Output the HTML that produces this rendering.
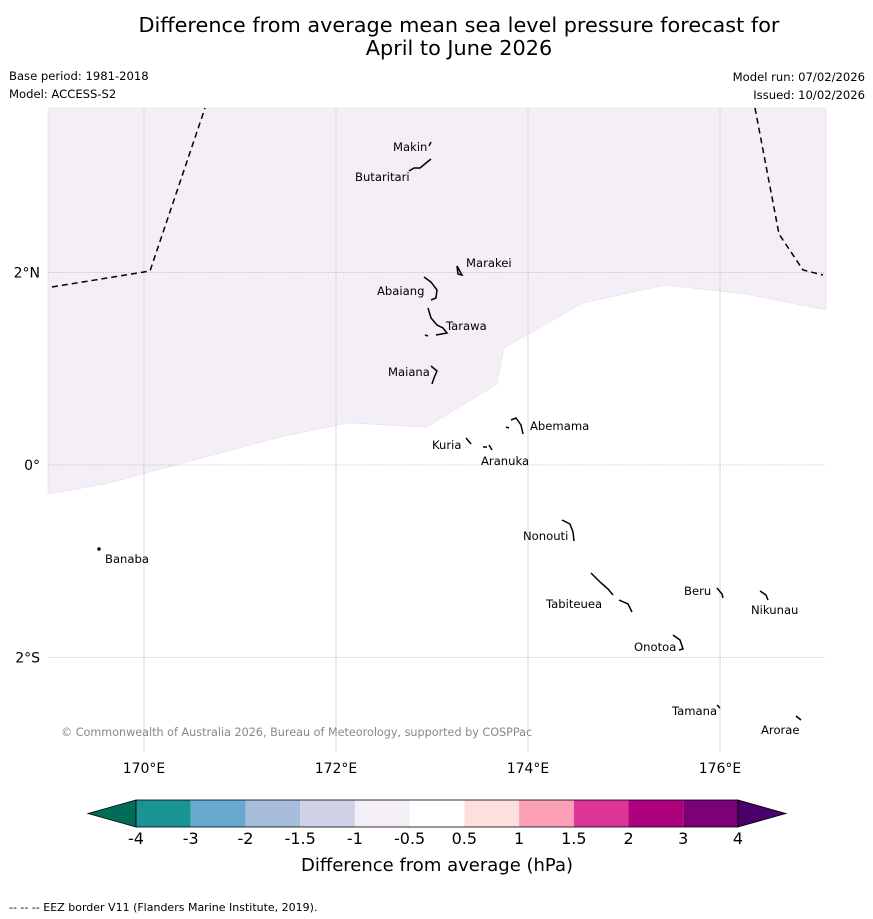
<!DOCTYPE html>
<html><head><meta charset="utf-8"><style>
body{margin:0;background:#fff;font-family:"Liberation Sans","DejaVu Sans",sans-serif;}
svg{display:block}
</style></head><body>
<svg id="chart" width="873" height="919" viewBox="0 0 873 919" font-family="DejaVu Sans, Liberation Sans, sans-serif">
<text x="459" y="32" font-size="20.8" text-anchor="middle">Difference from average mean sea level pressure forecast for</text>
<text x="459" y="55" font-size="20.8" text-anchor="middle">April to June 2026</text>
<text x="9" y="80" font-size="11.6">Base period: 1981-2018</text>
<text x="9" y="98" font-size="11.6">Model: ACCESS-S2</text>
<text x="865" y="81" font-size="11.6" text-anchor="end">Model run: 07/02/2026</text>
<text x="865" y="99" font-size="11.6" text-anchor="end">Issued: 10/02/2026</text>
<g id="map">
<rect x="48" y="108" width="778" height="644" fill="#fff"/>
<polygon fill="#f4eef6" stroke="#e6d8ea" stroke-width="0.5" points="48,494 105,484 150,472 280,437 348,423 427,427 497,384 504,348 583,303 665,285 745,294 826,310 826,108 48,108"/>
<g id="grid"></g>
<polyline fill="none" stroke="#000" stroke-width="1.5" stroke-dasharray="6,4" points="52,287 150,271 205,108"/>
<polyline fill="none" stroke="#000" stroke-width="1.5" stroke-dasharray="6,4" points="755,108 779,234 803,270 823,275"/>
<g fill="none" stroke="#000" stroke-width="1.5">
<polyline points="429,146 431,142"/>
<polyline points="409,171 414,168 420,168 426,163 431,159"/>
<polygon points="457,266 462,275 458,274"/>
<polyline points="424,277 431,282 437,290 436,298 431,300"/>
<polyline points="428,308 431,318 437,325 443,328 447,333 436,335"/>
<polyline points="425,335 428,336"/>
<polyline points="431,366 437,371 434,378 432,384"/>
<polyline points="511,420 516,418 521,425 523,434"/>
<polyline points="506,427 509,428"/>
<polyline points="466,438 471,444"/>
<polyline points="483,447 487,447"/>
<polyline points="489,445 492,450"/>
<polyline points="562,520 570,524 573,532 574,541"/>
<polyline points="591,573 600,582 608,589 613,595"/>
<polyline points="619,600 628,604 632,612"/>
<polyline points="717,588 722,594 723,598"/>
<polyline points="760,591 766,595 768,600"/>
<polyline points="673,635 680,640 683,649 679,650"/>
<polyline points="717,705 720,708"/>
<polyline points="796,716 801,720"/>
<circle cx="99" cy="549" r="1" fill="#000"/>
</g>
<g font-size="11.6" fill="#000">
<text x="393" y="151">Makin</text><text x="355" y="181">Butaritari</text>
<text x="466" y="267">Marakei</text><text x="377" y="295">Abaiang</text>
<text x="446" y="330">Tarawa</text><text x="388" y="376">Maiana</text>
<text x="530" y="430">Abemama</text><text x="432" y="449">Kuria</text>
<text x="481" y="465">Aranuka</text><text x="523" y="540">Nonouti</text>
<text x="546" y="608">Tabiteuea</text><text x="684" y="595">Beru</text>
<text x="751" y="614">Nikunau</text><text x="634" y="651">Onotoa</text>
<text x="672" y="715">Tamana</text><text x="761" y="734">Arorae</text>
<text x="105" y="563">Banaba</text>
</g>
<text x="61" y="736" font-size="11.2" fill="#888">© Commonwealth of Australia 2026, Bureau of Meteorology, supported by COSPPac</text>
</g>
<g id="axes"></g>
<g id="colorbar"></g>
<text x="437" y="871" font-size="18" text-anchor="middle">Difference from average (hPa)</text>
<text x="9" y="911" font-size="11">--  --  -- EEZ border V11 (Flanders Marine Institute, 2019).</text>
</svg>
<script>
const lonTicks=[170,172,174,176];
const latTicks=[2,0,-2];
const latLabels=["2°N","0°","2°S"];
const cbLevels=["-4","-3","-2","-1.5","-1","-0.5","0.5","1","1.5","2","3","4"];
const cbColors=["#1a9395","#67a9cf","#a6bddb","#d0d1e6","#f4eef6","#ffffff","#fde0dd","#fa9fb5","#dd3497","#ae017e","#7a0177"];
const NS="http://www.w3.org/2000/svg";
const xLon=l=>144+(l-170)*96;
const yLat=l=>465-l*96.25;
function mk(t,a,p){const e=document.createElementNS(NS,t);for(const k in a)e.setAttribute(k,a[k]);p.appendChild(e);return e;}
const grid=document.getElementById('grid'),axes=document.getElementById('axes');
lonTicks.forEach(l=>{
 const g=mk('line',{x1:xLon(l),x2:xLon(l),y1:108,y2:752,stroke:'#d0d0d0','stroke-width':0.8},grid);
 
 
 const t=mk('text',{x:xLon(l),y:773,'font-size':14,'text-anchor':'middle'},axes);t.textContent=l+'°E';
 
 
});
latTicks.forEach((l,i)=>{
 const g=mk('line',{x1:48,x2:826,y1:yLat(l),y2:yLat(l),stroke:'#888','stroke-width':0.6,'stroke-dasharray':'1,1.5'},grid);
 
 
 const t=mk('text',{x:40,y:yLat(l)+5,'font-size':14,'text-anchor':'end'},axes);t.textContent=latLabels[i];
 
 
});
const cb=document.getElementById('colorbar');
const x0=136,x1=738,y0=800,y1=827,w=(x1-x0)/cbColors.length;
const lt=mk('polygon',{points:`${x0},${y0} 88,813.5 ${x0},${y1}`,fill:'#016c59',stroke:'#000','stroke-width':0.8},cb);


const rt=mk('polygon',{points:`${x1},${y0} 786,813.5 ${x1},${y1}`,fill:'#49006a',stroke:'#000','stroke-width':0.8},cb);


cbColors.forEach((c,i)=>{
 const r=mk('rect',{x:x0+i*w,y:y0,width:w,height:y1-y0,fill:c},cb);
 
 
});
mk('rect',{x:x0,y:y0,width:x1-x0,height:y1-y0,fill:'none',stroke:'#000','stroke-width':0.8},cb);
cbLevels.forEach((v,i)=>{
 const t=mk('text',{x:x0+i*w,y:844,'font-size':16,'text-anchor':'middle'},cb);t.textContent=v;
 
 
});
</script>
</body></html>
